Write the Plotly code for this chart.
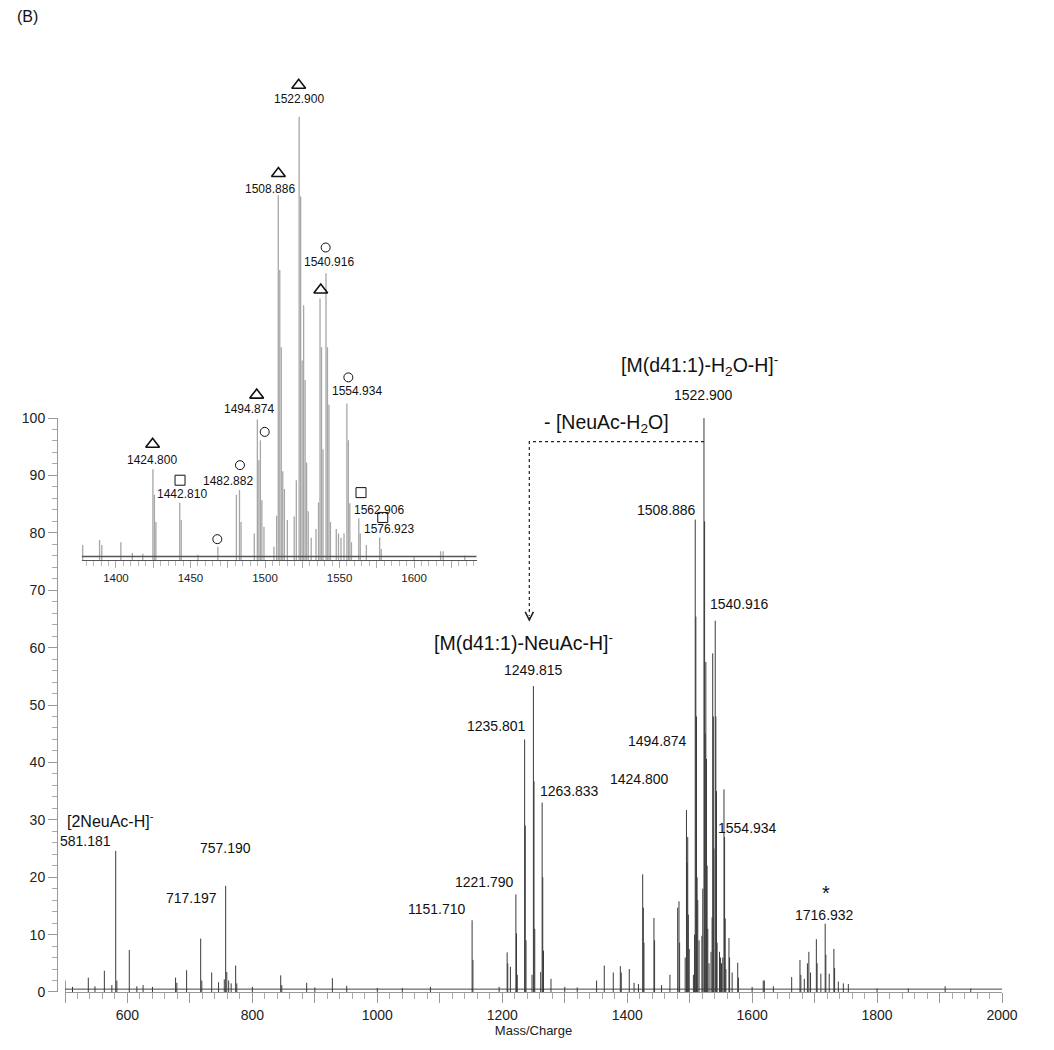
import plotly.graph_objects as go

# ---------------- data ----------------
peak_mz = [500, 512, 537.3, 548, 563, 575, 581.18, 583, 602.9, 615, 625, 640, 677, 679, 694.7,
           717.2, 719, 734.8, 745.8, 755, 757.19, 759, 762, 766, 773.2, 775, 800, 845.3, 847,
           886.9, 900, 928, 951, 1000, 1040, 1085, 1151.71, 1153, 1195, 1207.8, 1208.8, 1213,
           1221.79, 1222.8, 1224, 1235.8, 1236.8, 1238, 1247.6, 1249.82, 1250.8, 1252, 1261.5,
           1263.83, 1264.8, 1266, 1278, 1300, 1320, 1351, 1363.3, 1377.7, 1389, 1390.5, 1403.3,
           1411, 1418, 1424.8, 1425.8, 1426.8, 1442.81, 1443.8, 1455, 1468.4, 1480.8, 1482.88,
           1483.9, 1492.8, 1494.87, 1495.9, 1496.9, 1497.9, 1499.3, 1506, 1507.8, 1508.89,
           1509.9, 1510.9, 1511.9, 1513, 1515, 1519.6, 1521.0, 1522.9, 1523.9, 1524.9, 1525.9,
           1526.9, 1527.9, 1529, 1531, 1534.2, 1535.9, 1536.9, 1537.9, 1538.9, 1540.92, 1541.9,
           1542.9, 1543.9, 1547.8, 1549.3, 1551, 1553, 1554.93, 1555.9, 1556.9, 1558, 1562.91,
           1563.9, 1568, 1576.92, 1578, 1600, 1617.8, 1619.5, 1634, 1663.3, 1676.6, 1678, 1683.5,
           1688.5, 1690.8, 1693.5, 1702.8, 1704, 1710, 1716.93, 1718, 1723.4, 1730.9, 1732,
           1738, 1746, 1754, 1800, 1850, 1909, 1950]
peak_int = [2.0, 0.9, 2.5, 1.0, 3.7, 1.2, 24.6, 2.0, 7.3, 1.0, 1.2, 0.9, 2.5, 1.6, 3.8,
            9.3, 2.0, 3.4, 1.7, 2.2, 18.5, 3.5, 2.0, 1.5, 4.6, 1.5, 0.9, 2.9, 1.2,
            1.6, 0.8, 2.4, 1.1, 0.7, 0.7, 0.9, 12.5, 5.6, 0.9, 6.9, 5.0, 4.4,
            17.0, 10.2, 3.0, 44.0, 29.0, 9.0, 3.0, 53.3, 36.7, 11.0, 3.5,
            33.0, 20.0, 7.2, 2.3, 0.9, 0.8, 2.0, 4.6, 3.4, 4.5, 3.4, 4.0,
            1.6, 1.4, 20.5, 14.7, 8.6, 12.9, 9.0, 1.2, 3.0, 14.7, 15.8,
            8.6, 6.0, 31.7, 22.5, 27.0, 13.5, 7.5, 3.0, 10.0, 82.3,
            65.4, 48.0, 20.0, 16.0, 9.0, 9.8, 18.0, 100.0, 82.0, 45.0, 57.5,
            40.6, 22.0, 11.0, 5.0, 7.0, 13.0, 59.0, 48.0, 25.0, 64.7, 48.0,
            35.0, 8.6, 7.0, 6.0, 5.0, 6.0, 35.3, 27.0, 12.8, 4.0, 9.4,
            6.0, 3.4, 5.1, 2.5, 0.9, 2.0, 2.0, 1.0, 2.6, 5.6, 3.0, 2.3,
            5.0, 7.0, 3.4, 9.2, 5.0, 3.2, 11.9, 6.5, 3.2, 7.5, 4.2,
            1.8, 1.5, 1.4, 0.6, 0.6, 1.0, 0.6]
baseline_mz = [500, 2000]
baseline_int = [0.5, 0.5]
inset_baseline_mz = [1377, 1642]
inset_baseline_int = [0.8, 0.8]

main_label_text = ["1508.886", "1540.916", "1554.934", "1494.874", "1424.800",
                   "1249.815", "1235.801", "1263.833", "1221.790", "1151.710", "1716.932",
                   "581.181", "757.190", "717.197"]
top_label_text = ["1522.900", "[M(d41:1)-H<sub>2</sub>O-H]<sup>-</sup>"]
inset_label_text = ["1522.900", "1508.886", "1540.916", "1554.934", "1494.874", "1424.800",
                    "1442.810", "1482.882", "1562.906", "1576.923"]
triangle_mz = [1522.6, 1509.0, 1537.4, 1494.4, 1424.6]
circle_mz = [1540.7, 1555.9, 1499.8, 1483.2, 1468.0]
square_mz = [1443.0, 1564.4, 1579.0]

x_label_ticks = list(range(600, 2001, 200))
x_hundred_ticks = list(range(500, 2001, 100))
inset_label_ticks = list(range(1400, 1601, 50))
inset_quarter_ticks = list(range(1375, 1651, 25))

# ---------------- layout positions (not data) ----------------
main_label_pos = [(1463.2, 83.9), (1580.5, 67.6), (1593.3, 28.6), (1449.3, 43.7),
                  (1420.4, 37.1), (1249.6, 56.1), (1191.5, 46.3), (1308.4, 35.0), (1172.3, 19.2),
                  (1095.5, 14.5), (1716.6, 13.4), (533.6, 26.3), (757.7, 25.1), (703.3, 16.4)]
top_label_pos = [(1522.9, 0.6337, 14), (1516.5, 0.6654, 19.5)]   # y in paper units, font size
inset_label_pos = [(1522.6, 103.9), (1503.4, 83.7), (1543.2, 67.3), (1561.5, 38.1), (1489.3, 34.1),
                   (1424.2, 22.6), (1444.5, 14.9), (1475.4, 17.9), (1576.5, 11.3), (1583.4, 6.9)]
triangle_y = [107.1, 87.2, 60.9, 37.2, 26.1]
circle_y = [70.5, 41.2, 28.9, 21.4, 4.7]
square_y = [18.0, 15.2, 9.6]


def sticks(mz, inten, lo, hi):
    xs, ys = [], []
    for m, h in zip(mz, inten):
        if lo <= m <= hi:
            xs += [m, m, None]
            ys += [0, h, None]
    return xs, ys


FONT = "Arial, Liberation Sans, sans-serif"
fig = go.Figure()

mx, my = sticks(peak_mz, peak_int, 500, 2000)
fig.add_trace(go.Scatter(x=baseline_mz, y=baseline_int, mode="lines",
                         line=dict(color="#444", width=1), xaxis="x", yaxis="y", hoverinfo="skip"))
fig.add_trace(go.Scatter(x=mx, y=my, mode="lines", line=dict(color="#3a3a3a", width=1),
                         xaxis="x", yaxis="y"))

ix, iy = sticks(peak_mz, peak_int, 1377, 1642)
fig.add_trace(go.Scatter(x=ix, y=iy, mode="lines", line=dict(color="#a6a6a6", width=1.3),
                         xaxis="x2", yaxis="y2"))
fig.add_trace(go.Scatter(x=inset_baseline_mz, y=inset_baseline_int, mode="lines",
                         line=dict(color="#555", width=1.5), xaxis="x2", yaxis="y2"))

fig.add_trace(go.Scatter(x=triangle_mz, y=triangle_y, mode="markers", xaxis="x2", yaxis="y2",
                         cliponaxis=False,
                         marker=dict(symbol="triangle-up-open", size=12, color="#111",
                                     line=dict(width=1.6, color="#111"))))
fig.add_trace(go.Scatter(x=circle_mz, y=circle_y, mode="markers", xaxis="x2", yaxis="y2",
                         cliponaxis=False,
                         marker=dict(symbol="circle-open", size=9, color="#111",
                                     line=dict(width=1, color="#111"))))
fig.add_trace(go.Scatter(x=square_mz, y=square_y, mode="markers", xaxis="x2", yaxis="y2",
                         cliponaxis=False,
                         marker=dict(symbol="square-open", size=10, color="#111",
                                     line=dict(width=1, color="#111"))))

# dotted loss arrow
fig.add_trace(go.Scatter(x=[1522.9, 1243.3, 1243.3], y=[95.9, 95.9, 65.5], mode="lines",
                         line=dict(color="#222", width=1.2, dash="dot"), xaxis="x", yaxis="y",
                         cliponaxis=False))

# overlay axes that only draw the longer ticks every 100 / 25 units
fig.add_trace(go.Scatter(x=[500, 2000], y=[None, None], xaxis="x3", yaxis="y", hoverinfo="skip"))
fig.add_trace(go.Scatter(x=[1377, 1642], y=[None, None], xaxis="x4", yaxis="y2", hoverinfo="skip"))

ann = []
for t, (x, y) in zip(main_label_text, main_label_pos):
    ann.append(dict(x=x, y=y, xref="x", yref="y", text=t, showarrow=False,
                    xanchor="center", yanchor="middle",
                    font=dict(size=14, color="#111", family=FONT)))
for t, (x, y, s) in zip(top_label_text, top_label_pos):
    ann.append(dict(x=x, y=y, xref="x", yref="paper", text=t, showarrow=False,
                    xanchor="center", yanchor="middle",
                    font=dict(size=s, color="#111", family=FONT)))
for t, (x, y) in zip(inset_label_text, inset_label_pos):
    ann.append(dict(x=x, y=y, xref="x2", yref="y2", text=t, showarrow=False,
                    xanchor="center", yanchor="middle",
                    font=dict(size=12, color="#111", family=FONT)))

big = dict(size=19.5, color="#111", family=FONT)
ann += [
    dict(x=1367.1, y=99.1, xref="x", yref="y", text="- [NeuAc-H<sub>2</sub>O]",
         showarrow=False, font=big, yanchor="middle"),
    dict(x=1233.6, y=61.0, xref="x", yref="y", text="[M(d41:1)-NeuAc-H]<sup>-</sup>",
         showarrow=False, font=big, yanchor="middle"),
    dict(x=500, y=30.0, xref="x", yref="y", text="[2NeuAc-H]<sup>-</sup>", xanchor="left",
         yanchor="middle", showarrow=False, font=dict(size=16, color="#111", family=FONT)),
    dict(x=1718.2, y=17.2, xref="x", yref="y", text="*", showarrow=False, yanchor="middle",
         font=dict(size=20, color="#111", family=FONT)),
    dict(x=1243.3, y=64.5, xref="x", yref="y", ax=0, ay=-6, axref="pixel", ayref="pixel",
         text="", showarrow=True, arrowhead=5, arrowsize=1.6, arrowwidth=1, arrowcolor="#222"),
    dict(x=-0.044, y=1.036, xref="paper", yref="paper", text="(B)", xanchor="left",
         yanchor="middle", showarrow=False, font=dict(size=16, color="#111", family=FONT)),
]

fig.update_layout(
    width=1054, height=1050,
    margin=dict(l=49, r=60, t=42, b=66),
    paper_bgcolor="white", plot_bgcolor="white",
    showlegend=False,
    font=dict(family=FONT, color="#222"),
    annotations=ann,
    xaxis=dict(domain=[0.00847, 1], range=[500, 2000], anchor="y",
               showline=True, linecolor="#999", linewidth=1, showgrid=False, zeroline=False,
               tickmode="array", tickvals=x_label_ticks,
               ticks="outside", ticklen=10, tickcolor="#999", tickwidth=1,
               minor=dict(dtick=20, tick0=500, ticks="outside", ticklen=6, tickcolor="#aaa"),
               tickfont=dict(size=14, color="#222"),
               title=dict(text="Mass/Charge", font=dict(size=13, color="#222"), standoff=2)),
    xaxis3=dict(domain=[0.00847, 1], range=[500, 2000], anchor="y", overlaying="x",
                showline=False, showgrid=False, zeroline=False, showticklabels=False,
                tickmode="array", tickvals=x_hundred_ticks,
                ticks="outside", ticklen=10, tickcolor="#999", tickwidth=1),
    yaxis=dict(domain=[0, 0.6093], range=[0, 100], anchor="free", position=0,
               showline=True, linecolor="#999", linewidth=1, showgrid=False, zeroline=False,
               dtick=10, ticks="outside", ticklen=9, tickcolor="#999",
               minor=dict(dtick=2, ticks="outside", ticklen=5, tickcolor="#aaa"),
               tickfont=dict(size=14, color="#222")),
    xaxis2=dict(domain=[0.0261, 0.4441], range=[1377, 1642], anchor="y2",
                showline=True, linecolor="#555", linewidth=1, showgrid=False, zeroline=False,
                tickmode="array", tickvals=inset_label_ticks,
                ticks="outside", ticklen=7, tickcolor="#aaa",
                minor=dict(dtick=5, tick0=1375, ticks="outside", ticklen=5, tickcolor="#bbb"),
                tickfont=dict(size=11.5, color="#222")),
    xaxis4=dict(domain=[0.0261, 0.4441], range=[1377, 1642], anchor="y2", overlaying="x2",
                showline=False, showgrid=False, zeroline=False, showticklabels=False,
                tickmode="array", tickvals=inset_quarter_ticks,
                ticks="outside", ticklen=7, tickcolor="#aaa"),
    yaxis2=dict(domain=[0.4586, 0.9762], range=[0, 110], anchor="x2", visible=False),
)

fig.write_html("out.html")
